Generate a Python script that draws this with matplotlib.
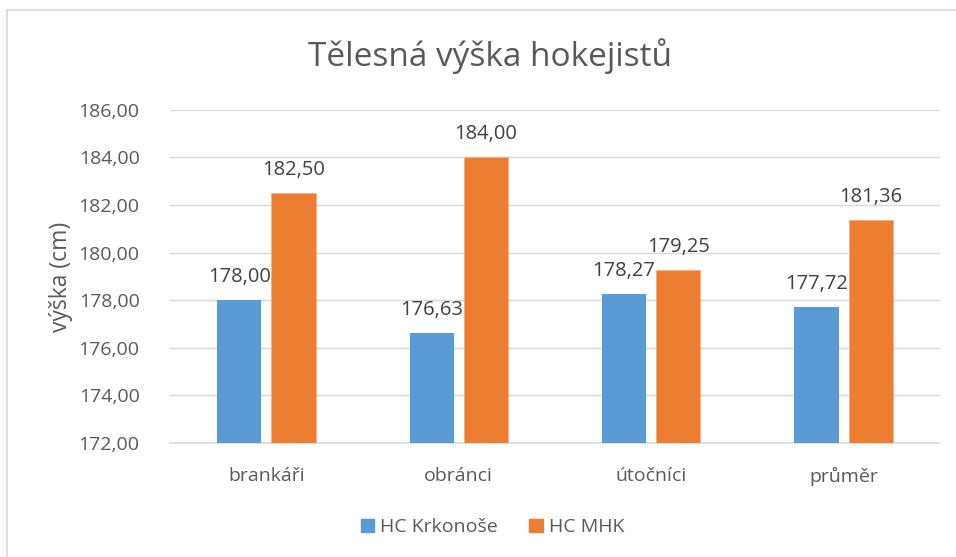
import numpy as np
import matplotlib.pyplot as plt
from matplotlib.lines import Line2D

plt.rcParams['font.family'] = ['Open Sans', 'DejaVu Sans']

# data
categories = ['brankáři', 'obránci', 'útočníci', 'průměr']
krkonose = [178.00, 176.63, 178.27, 177.72]
mhk = [182.50, 184.00, 179.25, 181.36]
series_names = ['HC Krkonoše', 'HC MHK']
yticks = [172, 174, 176, 178, 180, 182, 184, 186]

BLUE = '#5B9BD5'
ORANGE = '#ED7D31'
TEXT = '#595959'
GRID = '#D9D9D9'
FS = 14

fig = plt.figure(figsize=(9.56, 5.57), dpi=100)
ax = fig.add_axes([0.178, 0.2047, 0.805, 0.598])

x = np.arange(len(categories))
w = 0.23
gap = 0.026
b1 = ax.bar(x - w / 2 - gap, np.array(krkonose) - 172, w, bottom=172, color=BLUE, zorder=3)
b2 = ax.bar(x + w / 2 + gap, np.array(mhk) - 172, w, bottom=172, color=ORANGE,
            edgecolor='#F4B183', linewidth=0.6, zorder=3)

for bars, vals in [(b1, krkonose), (b2, mhk)]:
    for r, v in zip(bars, vals):
        ax.annotate(f'{v:.2f}'.replace('.', ','), (r.get_x() + r.get_width() / 2, v),
                    xytext=(0, 13), textcoords='offset points', ha='center',
                    va='baseline', fontsize=14.5, color='#404040')

ax.set_ylim(172, 186)
ax.set_xlim(-0.5, len(categories) - 0.5)
ax.set_yticks(yticks)
ax.set_yticklabels([f'{t:.2f}'.replace('.', ',') for t in yticks], fontsize=FS, color=TEXT)
ax.set_xticks(x)
ax.set_xticklabels(categories, fontsize=FS, color=TEXT)
ax.tick_params(axis='y', length=0, pad=22)
ax.tick_params(axis='x', length=0, pad=17)
ax.grid(axis='y', color=GRID, linewidth=1, zorder=0)
for s in ['top', 'right', 'left']:
    ax.spines[s].set_visible(False)
ax.spines['bottom'].set_color(GRID)
ax.spines['bottom'].set_linewidth(1.2)
ax.set_ylabel('výška (cm)', fontsize=16.5, color=TEXT, labelpad=4)

fig.text(0.513, 0.9, 'Tělesná výška hokejistů', ha='center', va='center',
         fontsize=24, color=TEXT)

handles = [plt.Rectangle((0, 0), 1, 1, color=BLUE), plt.Rectangle((0, 0), 1, 1, color=ORANGE)]
fig.legend(handles, series_names, loc='center', bbox_to_anchor=(0.515, 0.053), ncol=2,
           frameon=False, fontsize=FS, labelcolor=TEXT, handlelength=0.7,
           handleheight=0.7, handletextpad=0.3, columnspacing=1.6)

# chart frame (top and left edges visible)
fig.add_artist(Line2D([7 / 956, 7 / 956], [0, 1 - 10 / 557], color=GRID, linewidth=1.2))
fig.add_artist(Line2D([7 / 956, 1], [1 - 10 / 557, 1 - 10 / 557], color=GRID, linewidth=1.2))

fig.savefig('out.png', dpi=100, facecolor='white')
